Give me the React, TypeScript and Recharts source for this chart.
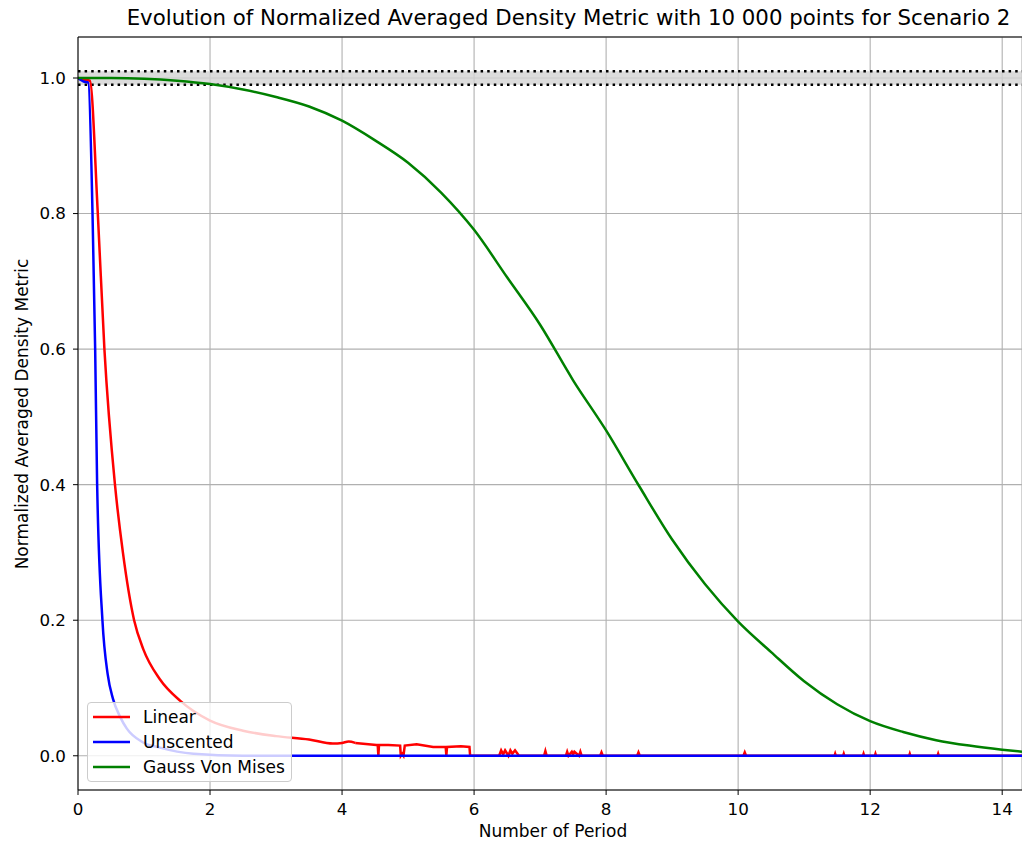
import React from 'react'
import { LineChart, Line, XAxis, YAxis, CartesianGrid, ReferenceArea, ReferenceLine } from 'recharts'

const xTicks = [0, 2, 4, 6, 8, 10, 12, 14]
const yTicks = [0, 0.2, 0.4, 0.6, 0.8, 1.0]

// Linear: smooth decay part
const linearHeadX = [0, 0.06, 0.18, 0.3, 0.4, 0.56, 0.68, 0.85, 0.99, 1.24, 1.55, 2.0, 2.5, 3.0, 3.5, 3.86, 4.0, 4.1, 4.2]
const linearHeadY = [1.0, 0.998, 0.996, 0.8, 0.6, 0.4, 0.3, 0.2, 0.157, 0.113, 0.081, 0.052, 0.037, 0.029, 0.024, 0.018, 0.019, 0.021, 0.019]

// Linear: noisy tail with drop-outs and small blips
const linearTailX = [4.2, 4.52, 4.54, 4.55, 4.56, 4.7, 4.88, 4.89, 4.91, 4.93, 4.95, 5.13, 5.38, 5.57, 5.58, 5.59, 5.8, 5.93, 5.94, 5.96,
  6.38, 6.41, 6.44, 6.47, 6.52, 6.55, 6.58, 6.62, 6.65, 6.68, 7.06, 7.08, 7.1, 7.39, 7.41, 7.43, 7.48, 7.5, 7.52, 7.59, 7.61, 7.63,
  7.91, 7.93, 7.95, 8.47, 8.49, 8.51, 10.08, 10.1, 10.12, 11.46, 11.47, 11.48, 11.59, 11.6, 11.61, 11.89, 11.9, 11.91,
  12.07, 12.08, 12.09, 12.59, 12.6, 12.61, 13.02, 13.03, 13.04, 14.3]
const linearTailY = [0.019, 0.016, 0.016, 0, 0.016, 0.016, 0.015, 0, 0.003, 0, 0.015, 0.017, 0.013, 0.013, 0, 0.013, 0.014, 0.013, 0, 0,
  0, 0.008, 0.002, 0.008, 0, 0.008, 0.003, 0.008, 0.004, 0, 0, 0.007, 0, 0, 0.006, 0, 0.006, 0.002, 0.006, 0, 0.006, 0,
  0, 0.005, 0, 0, 0.005, 0, 0, 0.005, 0, 0, 0.003, 0, 0, 0.003, 0, 0, 0.003, 0,
  0, 0.003, 0, 0, 0.003, 0, 0, 0.003, 0, 0]

const unscentedX = [0, 0.03, 0.08, 0.157, 0.22, 0.26, 0.29, 0.37, 0.45, 0.53, 0.64, 0.74, 0.98, 1.24, 1.75, 2.5, 14.3]
const unscentedY = [1.0, 0.998, 0.995, 0.993, 0.8, 0.6, 0.4, 0.2, 0.12, 0.084, 0.057, 0.04, 0.02, 0.012, 0.003, 0, 0]

const gaussX = [0, 0.5, 1, 1.5, 2, 2.5, 3, 3.5, 4, 4.5, 5, 5.5, 6, 6.5, 7, 7.5, 8, 8.5, 9, 9.5, 10, 10.5, 11, 11.5, 12, 12.5, 13, 13.5, 14, 14.3]
const gaussY = [1.0, 1.0, 0.999, 0.996, 0.991, 0.983, 0.972, 0.958, 0.937, 0.908, 0.875, 0.831, 0.776, 0.706, 0.636, 0.554, 0.48, 0.398,
  0.319, 0.253, 0.198, 0.153, 0.11, 0.076, 0.051, 0.035, 0.023, 0.015, 0.009, 0.006]

const seriesNames = ['Linear', 'Unscented', 'Gauss Von Mises']
const seriesColors = ['#ff0000', '#0000ff', '#008000']

const toPoints = (xs: number[], ys: number[]) => xs.map((x, i) => ({ x, y: ys[i] }))

const font = 'DejaVu Sans, sans-serif'

export default function App() {
  const tick = { fill: '#000', fontSize: 16.7, fontFamily: font }

  return (
    <div style={{ position: 'absolute', left: 0, top: 0, width: 1022, height: 844, background: '#fff' }}>
      <LineChart width={1022} height={844} margin={{ top: 37, right: 0, left: 0, bottom: 0 }}>
        <CartesianGrid stroke="#b0b0b0" strokeWidth={1.1} />
        <XAxis
          dataKey="x"
          type="number"
          domain={[0, 14.3]}
          ticks={xTicks}
          allowDataOverflow
          height={54}
          tickSize={5}
          tickMargin={8}
          stroke="#000"
          tick={tick}
        />
        <YAxis
          type="number"
          domain={[-0.0505, 1.0605]}
          ticks={yTicks}
          allowDataOverflow
          width={78}
          tickSize={5}
          tickMargin={7}
          stroke="#000"
          tick={tick}
          tickFormatter={(v: number) => v.toFixed(1)}
        />
        <ReferenceArea y1={0.99} y2={1.01} fill="lightgray" fillOpacity={0.8} stroke="none" />
        <ReferenceLine y={1.0605} stroke="#000" strokeWidth={1.1} />
        <ReferenceLine y={1.01} stroke="#000" strokeWidth={2.5} strokeDasharray="2.5 4.1" />
        <ReferenceLine y={0.99} stroke="#000" strokeWidth={2.5} strokeDasharray="2.5 4.1" />
        <Line data={toPoints(linearHeadX, linearHeadY)} dataKey="y" type="monotone" stroke={seriesColors[0]} strokeWidth={2.5} dot={false} isAnimationActive={false} />
        <Line data={toPoints(linearTailX, linearTailY)} dataKey="y" type="linear" stroke={seriesColors[0]} strokeWidth={2.5} dot={false} isAnimationActive={false} />
        <Line data={toPoints(unscentedX, unscentedY)} dataKey="y" type="monotone" stroke={seriesColors[1]} strokeWidth={2.5} dot={false} isAnimationActive={false} />
        <Line data={toPoints(gaussX, gaussY)} dataKey="y" type="monotone" stroke={seriesColors[2]} strokeWidth={2.5} dot={false} isAnimationActive={false} />
      </LineChart>

      <div style={{ position: 'absolute', left: 0, width: 1137, top: 5, textAlign: 'center', fontFamily: font, fontSize: 21.3, lineHeight: '26px' }}>
        Evolution of Normalized Averaged Density Metric with 10 000 points for Scenario 2
      </div>
      <div style={{ position: 'absolute', left: 0, width: 1106, top: 821, textAlign: 'center', fontFamily: font, fontSize: 17, lineHeight: '20px' }}>
        Number of Period
      </div>
      <div
        style={{
          position: 'absolute', left: 22, top: 414, width: 400, marginLeft: -200, marginTop: -10,
          transform: 'rotate(-90deg)', textAlign: 'center', fontFamily: font, fontSize: 17, lineHeight: '20px',
        }}
      >
        Normalized Averaged Density Metric
      </div>

      <div
        style={{
          position: 'absolute', left: 87, top: 702, width: 203, height: 78, background: 'rgba(255,255,255,0.8)',
          border: '1px solid #cccccc', borderRadius: 4, fontFamily: font, fontSize: 17,
        }}
      >
        {seriesNames.map((name, i) => (
          <div key={name} style={{ position: 'absolute', left: 5, top: 3 + i * 25, height: 22, display: 'flex', alignItems: 'center' }}>
            <svg width={37} height={4} style={{ marginRight: 13 }}>
              <line x1={0} y1={2} x2={37} y2={2} stroke={seriesColors[i]} strokeWidth={2.5} />
            </svg>
            <span>{name}</span>
          </div>
        ))}
      </div>
    </div>
  )
}
